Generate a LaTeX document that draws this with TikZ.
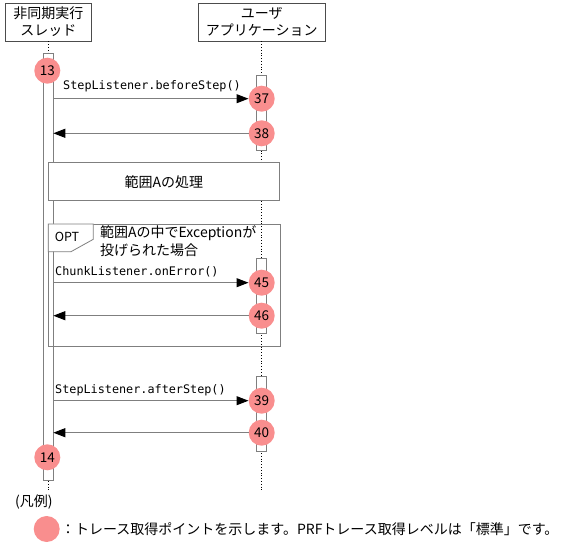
\documentclass[tikz,border=0pt]{standalone}
\usepackage{fontspec}
\setmainfont{Noto Sans CJK JP}
\setmonofont{DejaVu Sans Mono}
\usepackage{tikz}
\usetikzlibrary{arrows.meta, positioning}
\definecolor{tracepink}{HTML}{F98E8E}
\definecolor{linegray}{HTML}{7F7F7F}

\begin{document}
\begin{tikzpicture}[x=1pt, y=-1pt,
        head/.style={draw=black!70, line width=0.8pt, minimum height=38pt, align=center,
                     inner sep=0pt, font=\fontsize{14}{17}\selectfont},
        trace/.style={circle, fill=tracepink, minimum size=26pt, inner sep=0pt,
                      font=\fontsize{13.5}{13.5}\selectfont},
        bar/.style={draw=linegray, fill=white, line width=0.8pt},
        life/.style={draw=black, dotted, line width=0.8pt},
        msg/.style={draw=linegray, line width=1pt, -{Triangle[length=12pt, width=9pt, black]}},
        lbl/.style={anchor=west, inner sep=0pt, font=\ttfamily\fontsize{11.8}{13}\selectfont},
        fragment/.style={draw=linegray, line width=0.8pt},
        txt/.style={inner sep=0pt, font=\fontsize{14}{18}\selectfont}
    ]
        \useasboundingbox (0,0) rectangle (567,545);
        % lifelines
        \node[head, minimum width=86pt]  (thr) at (48.3,22)  {非同期実行\\スレッド};
        \node[head, minimum width=127pt] (app) at (261.7,22) {ユーザ\\アプリケーション};
        \coordinate (thrend) at (48.3,491);
        \coordinate (append) at (261.7,490);
        \draw[life] (thr) -- (thrend);
        \draw[life] (app) -- (append);
        % activation bars
        \draw[bar] (43.3,53) rectangle (53.3,480);
        \draw[bar] (256.7,75.7) rectangle (266.7,150);
        \draw[bar] (256.7,258.3) rectangle (266.7,333.3);
        \draw[bar] (256.7,376.7) rectangle (266.7,451);
        % range A
        \node[fragment, fill=white, minimum width=231pt, minimum height=38pt, txt]
            (rangea) at (163.8,181.7) {範囲Aの処理};
        % OPT fragment
        \draw[fragment] (48.3,224) rectangle (280,346.7);
        \draw[fragment, fill=white] (48.3,224) -| (93.3,239.3) -- (71,251.7) -- (48.3,251.7) -- cycle;
        \node[txt, font=\fontsize{12.5}{14}\selectfont] (opt) at (67,237.3) {OPT};
        \node[txt, anchor=west, align=left] (cond) at (100,241) {範囲Aの中でExceptionが\\投げられた場合};
        % beforeStep
        \node[trace] (p13) at (47.3,70.7) {13};
        \node[trace] (p37) at (261.7,98.7) {37};
        \coordinate (s37) at (53.3,98.7);
        \draw[msg] (s37) -- (p37);
        \node[lbl] (m37) at (63,86.7) {StepListener.beforeStep()};
        \node[trace] (p38) at (261.7,133.3) {38};
        \coordinate (r38) at (53.3,133.3);
        \draw[msg] (p38) -- (r38);
        % onError
        \node[trace] (p45) at (261.7,282.7) {45};
        \coordinate (s45) at (53.3,282.7);
        \draw[msg] (s45) -- (p45);
        \node[lbl] (m45) at (55,272) {ChunkListener.onError()};
        \node[trace] (p46) at (261.7,315.7) {46};
        \coordinate (r46) at (53.3,315.7);
        \draw[msg] (p46) -- (r46);
        % afterStep
        \node[trace] (p39) at (261.7,400.7) {39};
        \coordinate (s39) at (53.3,400.7);
        \draw[msg] (s39) -- (p39);
        \node[lbl] (m39) at (55,390.7) {StepListener.afterStep()};
        \node[trace] (p40) at (261.7,432.7) {40};
        \coordinate (r40) at (53.3,432.7);
        \draw[msg] (p40) -- (r40);
        \node[trace] (p14) at (47.3,457.3) {14};
        % legend
        \node[txt, anchor=west] (legend) at (15,501.7) {(凡例)};
        \node[trace] (key) at (46.7,529) {};
        \node[txt, anchor=west, right=1pt of key] (keytxt)
            {：トレース取得ポイントを示します。PRFトレース取得レベルは「標準」です。};
\end{tikzpicture}
\end{document}
